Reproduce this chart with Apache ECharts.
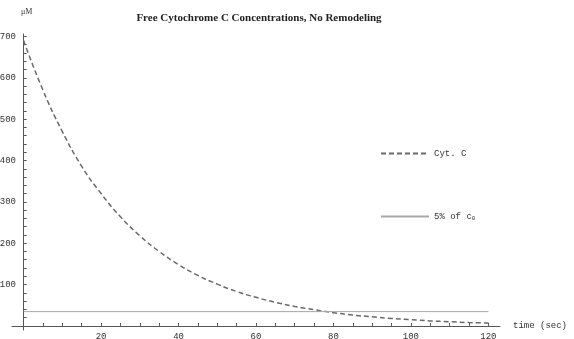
<!DOCTYPE html>
<html>
<head>
<meta charset="utf-8">
<script src="https://cdn.jsdelivr.net/npm/echarts@6/dist/echarts.min.js"></script>
<style>
  html, body { margin: 0; padding: 0; background: #fff; }
  #chart { width: 574px; height: 339px; }
</style>
</head>
<body>
<div id="chart"></div>
<script>
// values
var times = [0, 5, 10, 15, 20, 25, 30, 35, 40, 45, 50, 55, 60, 65, 70, 75, 80, 85, 90, 95, 100, 105, 110, 115, 120];
var cytC = [690, 570, 470, 386, 320, 264, 218, 180, 148, 122, 101, 83, 69, 57, 47, 39, 32, 26, 22, 18, 15, 12, 10, 8, 7];
var thresholdTimes = [0, 120];
var thresholdValue = 34.5;
var xLabels = [20, 40, 60, 80, 100, 120];
var yLabels = [100, 200, 300, 400, 500, 600, 700];

var xTicks = [];
for (var i = 0; i <= 120; i += 5) xTicks.push(i);
var yTicks = [];
for (var j = 0; j <= 700; j += 20) yTicks.push(j);

var mono = 'Liberation Mono';
var axisColor = '#555';

var option = {
    animation: false,
    backgroundColor: '#fff',
    title: {
        text: 'Free Cytochrome C Concentrations, No Remodeling',
        left: 254,
        textAlign: 'center',
        top: 8,
        textStyle: {
            fontFamily: 'Liberation Serif',
            fontWeight: 'bold',
            fontSize: 11,
            color: '#222'
        }
    },
    legend: {
        orient: 'vertical',
        left: 375,
        top: 144,
        itemGap: 54,
        itemWidth: 48,
        itemHeight: 10,
        itemStyle: { opacity: 0 },
        textStyle: {
            fontFamily: mono,
            fontSize: 9,
            color: '#333',
            rich: {
                sub: { fontFamily: mono, fontSize: 6, verticalAlign: 'bottom', padding: [4, 0, 0, 0], color: '#333' }
            }
        },
        formatter: function (name) {
            return name === '5% of c0' ? '5% of c{sub|0}' : name;
        },
        data: ['Cyt. C', '5% of c0']
    },
    grid: {
        left: 12,
        right: 74,
        top: 34,
        bottom: 9,
        outerBoundsMode: 'none'
    },
    xAxis: {
        type: 'value',
        min: -3,
        max: 123,
        name: 'time (sec)',
        nameLocation: 'end',
        nameGap: 13,
        nameTextStyle: { fontFamily: mono, fontSize: 9, color: '#333' },
        axisLine: { onZero: true, lineStyle: { color: axisColor, width: 1 } },
        axisTick: { inside: true, length: 3, customValues: xTicks, lineStyle: { color: axisColor } },
        axisLabel: { customValues: xLabels, fontFamily: mono, fontSize: 9, color: '#333', margin: 2 },
        splitLine: { show: false }
    },
    yAxis: {
        type: 'value',
        min: -10,
        max: 706,
        name: 'μM',
        nameLocation: 'end',
        nameGap: 18,
        nameTextStyle: { fontFamily: 'Liberation Serif', fontSize: 8, color: '#333', padding: [0, 0, 0, 6] },
        axisLine: { show: true, onZero: true, lineStyle: { color: axisColor, width: 1 } },
        axisTick: { show: true, inside: true, length: 3, customValues: yTicks, lineStyle: { color: axisColor } },
        axisLabel: { customValues: yLabels, fontFamily: mono, fontSize: 9, color: '#333', margin: -4 },
        splitLine: { show: false }
    },
    series: [
        {
            name: 'Cyt. C',
            type: 'line',
            smooth: true,
            symbol: 'none',
            lineStyle: { color: '#6a6a6a', width: 1.5, type: [5, 3] },
            data: times.map(function (t, k) { return [t, cytC[k]]; })
        },
        {
            name: '5% of c0',
            type: 'line',
            symbol: 'none',
            lineStyle: { color: '#a8a8a8', width: 1 },
            data: thresholdTimes.map(function (t) { return [t, thresholdValue]; })
        }
    ]
};

var chart = echarts.init(document.getElementById('chart'));
chart.setOption(option);
</script>
</body>
</html>
